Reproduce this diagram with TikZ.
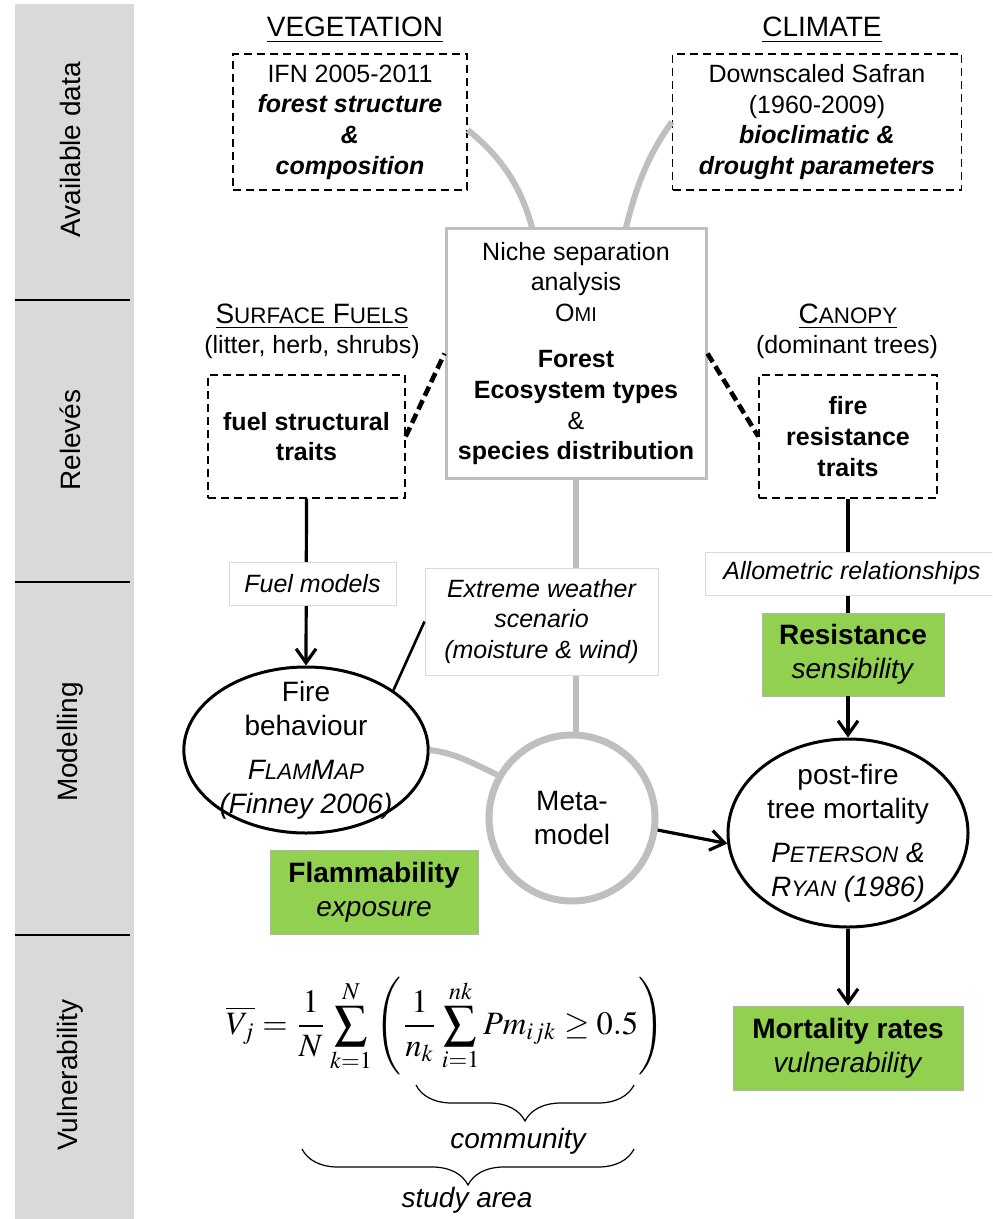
\documentclass[tikz,border=0pt]{standalone}
\usepackage{mathptmx}
\usepackage[no-math]{fontspec}
\setmainfont{Liberation Sans}
\usetikzlibrary{shapes.geometric, arrows.meta, positioning, decorations.pathreplacing}

\definecolor{leafgreen}{HTML}{92D050}
\definecolor{linkgrey}{HTML}{BFBFBF}
\definecolor{bargrey}{HTML}{D9D9D9}

\newcommand{\bodysize}{\fontsize{12.5}{15.3}\selectfont}
\newcommand{\headsize}{\fontsize{14}{17}\selectfont}
\newcommand{\smc}[1]{\scalebox{0.8}{#1}}

\begin{document}
\begin{tikzpicture}[
  x=0.5pt, y=-0.5pt,
  dashbox/.style={draw, line width=0.7pt, dash pattern=on 4pt off 2.5pt, align=center, font=\bodysize},
  head/.style={font=\headsize, anchor=base},
  sub/.style={font=\bodysize, anchor=base},
  labelbox/.style={draw=black!15, line width=0.5pt, fill=white, align=center, font=\bodysize\itshape},
  result/.style={draw=black!30, line width=0.4pt, fill=leafgreen, align=center, font=\headsize},
  model/.style={ellipse, draw, line width=1.5pt, fill=white, align=center, font=\headsize, inner xsep=0pt, inner ysep=-12pt},
  greyline/.style={line width=3pt, draw=linkgrey},
  dashline/.style={line width=2.3pt, dash pattern=on 5pt off 2.5pt},
  link/.style={line width=1.6pt},
  arrow/.style={line width=1.6pt, -{Straight Barb[length=7pt, width=10pt]}},
  brace/.style={decorate, decoration={brace, amplitude=18pt}, line width=0.6pt},
  sidelabel/.style={rotate=90, font=\headsize}
]

\clip (0,0) rectangle (992,1219);

% phases
\fill[bargrey] (15,4) rectangle (134,1219);
\foreach \y in {300,582,935}
  \draw[line width=0.8pt] (15,\y) -- (130,\y);
\node[sidelabel] (avail) at (70,150) {Available data};
\node[sidelabel] (releve) at (70,440) {Relevés};
\node[sidelabel] (modell) at (70,742) {Modelling};
\node[sidelabel] (vulner) at (70,1075) {Vulnerability};

% available data
\node[head] (veghead) at (355,37) {\underline{VEGETATION}};
\node[head] (climhead) at (822,37) {\underline{CLIMATE}};
\node[dashbox, minimum width=117pt, minimum height=68pt] (vegdata) at (350,122)
  {IFN 2005-2011\\\textbf{\textit{forest structure}}\\\textbf{\textit{\&}}\\\textbf{\textit{composition}}};
\node[dashbox, minimum width=144.5pt, minimum height=68pt] (climdata) at (817,122)
  {Downscaled Safran\\(1960-2009)\\\textbf{\textit{bioclimatic \&}}\\\textbf{\textit{drought parameters}}};

\node[draw=linkgrey, line width=1.5pt, minimum width=130pt, minimum height=124.5pt, align=center, font=\bodysize] (niche) at (576,353.5)
  {Niche separation\\analysis\\O\smc{MI}\\[8pt]\textbf{Forest}\\\textbf{Ecosystem types}\\\&\\\textbf{species distribution}};

% releves
\node[head] (surfhead) at (312,323) {\underline{S\smc{URFACE} F\smc{UELS}}};
\node[sub] (surfsub) at (312,353) {(litter, herb, shrubs)};
\node[dashbox, minimum width=98.5pt, minimum height=61.5pt] (fuelbox) at (306.5,436.5)
  {\textbf{fuel structural}\\\textbf{traits}};
\node[head] (canhead) at (848,323) {\underline{C\smc{ANOPY}}};
\node[sub] (cansub) at (847,353) {(dominant trees)};
\node[dashbox, minimum width=89pt, minimum height=61.5pt] (firebox) at (848,436.5)
  {\textbf{fire}\\\textbf{resistance}\\\textbf{traits}};

% modelling
\node[model, minimum width=120pt, minimum height=83pt] (fire) at (306,750)
  {Fire\\behaviour\\[5pt]\textit{F\smc{LAM}M\smc{AP}}\\\textit{(Finney 2006)}};
\node[circle, draw=linkgrey, line width=3.5pt, fill=white, minimum size=83pt, align=center, font=\headsize] (meta) at (572,818)
  {Meta-\\model};
\node[model, minimum width=120pt, minimum height=94pt] (postfire) at (848,833)
  {post-fire\\tree mortality\\[5pt]\textit{P\smc{ETERSON} \&}\\\textit{R\smc{YAN} (1986)}};
\node[result, minimum width=91pt, minimum height=41.5pt] (resist) at (853,654.5)
  {\textbf{Resistance}\\\textit{sensibility}};
\node[result, minimum width=104pt, minimum height=42pt] (flamm) at (374,892)
  {\textbf{Flammability}\\\textit{exposure}};
\node[result, minimum width=115pt, minimum height=42pt] (mortal) at (848,1048)
  {\textbf{Mortality rates}\\\textit{vulnerability}};

% links
\draw[greyline] ([yshift=-4pt]vegdata.east) .. controls +(30,24) and +(-12,-45) .. ([xshift=-22pt]niche.north);
\draw[greyline] (climdata.west) .. controls +(-25,35) and +(10,-40) .. ([xshift=25pt]niche.north);
\draw[greyline] (niche.south) -- (niche.south |- meta.north);
\draw[greyline] (fire.east) .. controls +(25,3) and +(-25,-12) .. (meta.150);
\draw[dashline] (fuelbox.east) -- (niche.west);
\draw[dashline] (niche.east) -- (firebox.west);
\draw[arrow] (fuelbox.south) -- (fire.north);
\draw[link] (firebox.south) -- (firebox.south |- resist.north);
\draw[arrow] (resist.south -| postfire.north) -- (postfire.north);
\draw[arrow] (meta.-8) -- (postfire.185);
\draw[arrow] (postfire.south) -- (mortal.north);

\node[labelbox, minimum width=83.5pt, minimum height=21.5pt] (fuelmod) at (312.5,583.5) {Fuel models};
\node[labelbox, minimum width=147pt, minimum height=21.5pt] (allom) at (852,573.5) {Allometric relationships};
\node[labelbox, minimum width=116.5pt, minimum height=53.5pt] (weather) at (541.5,621.5)
  {Extreme weather\\scenario\\(moisture \& wind)};
\draw[line width=1.3pt] (weather.west) -- (fire.north east);

% vulnerability
\node (formula) at (445,1026) {\resizebox{219pt}{!}{$\displaystyle \overline{V_j} = \frac{1}{N}\sum_{k=1}^{N}\left(\frac{1}{n_k}\sum_{i=1}^{nk} Pm_{ijk} \geq 0.5\right)$}};
\coordinate (commR) at (634,1085);
\coordinate (commL) at (416,1085);
\draw[brace] (commR) -- (commL);
\node[font=\headsize\itshape] (comm) at (518,1141) {community};
\coordinate (areaR) at (634,1149);
\coordinate (areaL) at (302,1149);
\draw[brace] (areaR) -- (areaL);
\node[font=\headsize\itshape] (area) at (467,1200) {study area};

\end{tikzpicture}
\end{document}
